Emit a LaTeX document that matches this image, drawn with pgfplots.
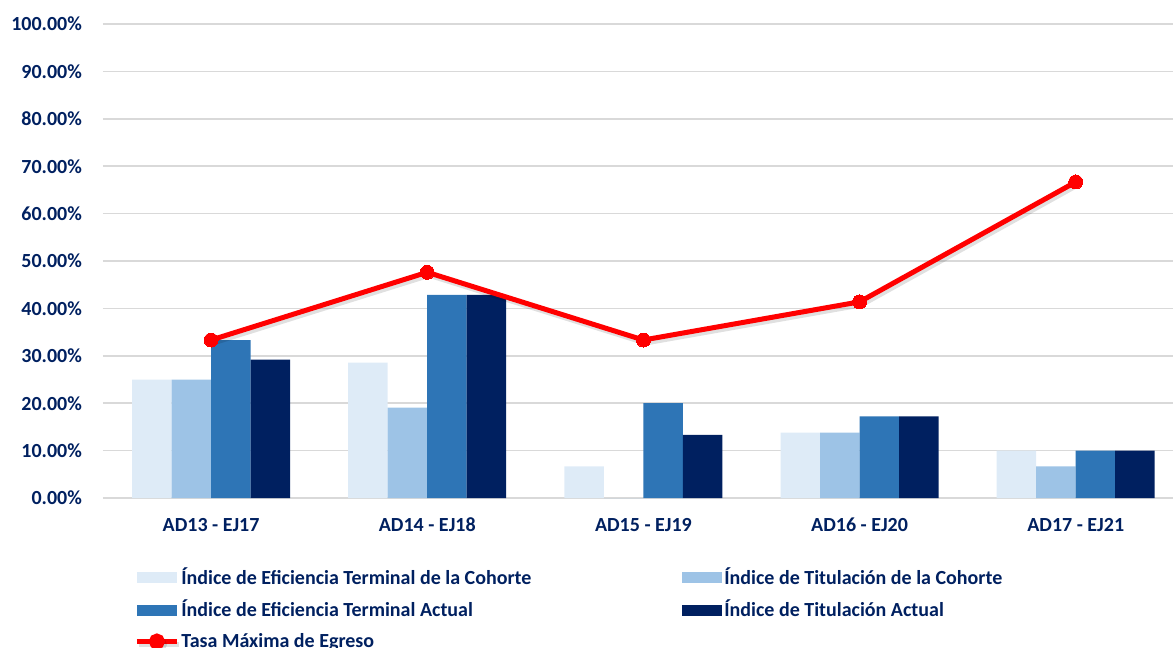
\documentclass[border=0pt]{standalone}
\usepackage{pgfplots}
\pgfplotsset{compat=1.18}
\usepackage{fontspec}
\setmainfont{Carlito}
\definecolor{c1}{RGB}{222,235,247}
\definecolor{c2}{RGB}{157,195,230}
\definecolor{c3}{RGB}{46,117,182}
\definecolor{c4}{RGB}{0,32,96}
\definecolor{txt}{RGB}{0,32,96}
\definecolor{gridc}{RGB}{217,217,217}
\begin{document}
\begin{tikzpicture}
\begin{axis}[
  at={(0,0)}, anchor=south west,
  scale only axis, width=535pt, height=237pt,
  xmin=-0.5, xmax=4.45, ymin=0, ymax=100,
  ybar=0pt, bar width=19.75pt,
  axis line style={draw=none},
  major tick length=0pt,
  ytick={0,10,...,100},
  yticklabel={\pgfmathprintnumber[fixed,fixed zerofill,precision=2]{\tick}\%},
  /pgf/number format/assume math mode=true,
  ymajorgrids, grid style={gridc, line width=0.75pt},
  xtick={0,1,2,3,4},
  xticklabels={AD13 - EJ17, AD14 - EJ18, AD15 - EJ19, AD16 - EJ20, AD17 - EJ21},
  tick label style={font=\bfseries\fontsize{10}{12}\selectfont, text=txt},
  yticklabel style={xshift=-7pt},
  xticklabel style={yshift=-6.5pt},
  legend columns=2,
  legend cell align=left,
  legend style={at={(0,0)}, anchor=north west, xshift=12.5pt, yshift=-31.5pt,
    draw=none, fill=none, font=\bfseries\fontsize{10}{12}\selectfont, text=txt,
    row sep=4.5pt, nodes={inner sep=1pt},
    /tikz/every even column/.append style={column sep=0pt}},
  legend image code/.code={\fill[#1] (0pt,-2.75pt) rectangle (20pt,2.75pt);},
]
\addplot[fill=c1, draw=none] coordinates {(0,25) (1,28.57) (2,6.67) (3,13.79) (4,10)};
\addlegendentry{\makebox[249.5pt][l]{Índice de Eficiencia Terminal de la Cohorte}}
\addplot[fill=c2, draw=none] coordinates {(0,25) (1,19.05) (2,0) (3,13.79) (4,6.67)};
\addlegendentry{Índice de Titulación de la Cohorte}
\addplot[fill=c3, draw=none] coordinates {(0,33.33) (1,42.86) (2,20) (3,17.24) (4,10)};
\addlegendentry{\makebox[249.5pt][l]{Índice de Eficiencia Terminal Actual}}
\addplot[fill=c4, draw=none] coordinates {(0,29.17) (1,42.86) (2,13.33) (3,17.24) (4,10)};
\addlegendentry{Índice de Titulación Actual}
\addplot[sharp plot, red, line width=2.5pt, mark=*, mark size=3.5pt,
  mark options={fill=red, draw=red, line width=0pt},
  preaction={draw=black, opacity=0.12, line width=2.5pt, transform canvas={xshift=1pt, yshift=-1.5pt}},
  legend image code/.code={\draw[red, line width=2.5pt] (0pt,0pt) -- (20pt,0pt); \fill[red] (10pt,0pt) circle (2.75pt);}]
  coordinates {(0,33.33) (1,47.62) (2,33.33) (3,41.38) (4,66.67)};
\addlegendentry{Tasa Máxima de Egreso}
\end{axis}
\pgfresetboundingbox
\useasboundingbox (-51.5pt,-75pt) rectangle (535pt,249pt);
\end{tikzpicture}
\end{document}
